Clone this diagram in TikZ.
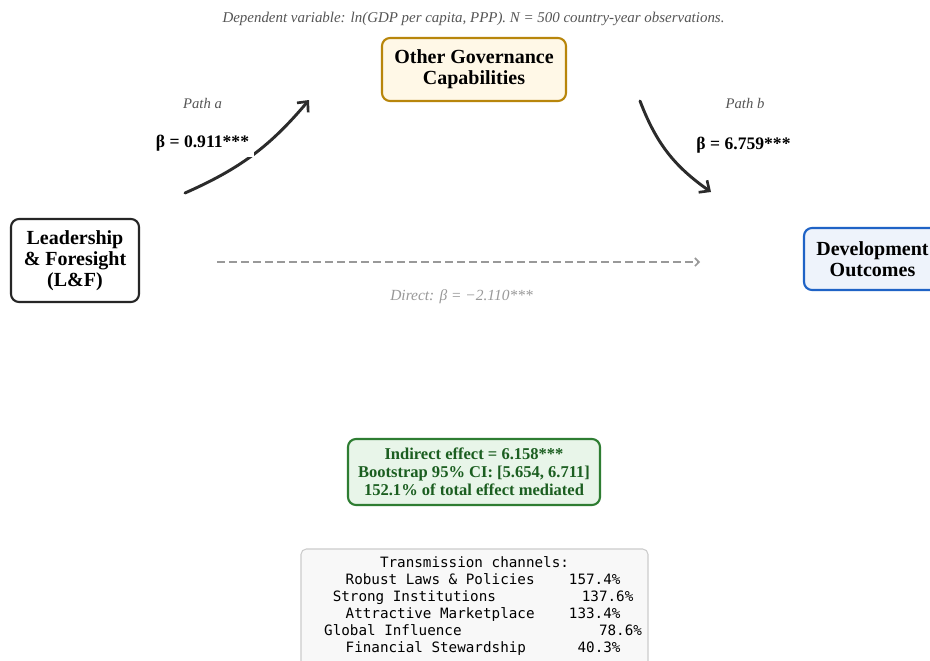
\documentclass[tikz,border=0pt]{standalone}
\usepackage{fontspec}
\setmainfont{Liberation Serif}
\setmonofont{DejaVu Sans Mono}
\usetikzlibrary{arrows.meta}
\definecolor{goldline}{HTML}{B8860B}
\definecolor{goldfill}{HTML}{FFF8E7}
\definecolor{blueline}{HTML}{1F63C6}
\definecolor{bluefill}{HTML}{EEF3FB}
\definecolor{greenline}{HTML}{2E7D32}
\definecolor{greenfill}{HTML}{E8F5E9}
\definecolor{greentext}{HTML}{1B5E20}
\definecolor{darkarrow}{HTML}{2B2B2B}
\definecolor{graytext}{HTML}{555555}
\definecolor{lightgraytext}{HTML}{999999}
\definecolor{tableline}{HTML}{CCCCCC}
\definecolor{tablefill}{HTML}{F8F8F8}
\tikzset{
  box/.style={rounded corners=6pt, line width=1.6pt, align=center, inner sep=0pt,
    font=\fontsize{15}{15.6}\selectfont\bfseries},
  pathlabel/.style={font=\fontsize{11}{13}\selectfont\itshape, text=graytext},
  betalabel/.style={font=\fontsize{13.2}{15}\selectfont\bfseries, text=black},
  patharrow/.style={line width=2.2pt, draw=darkarrow, line cap=round,
    -{Straight Barb[length=6pt,width=11pt,line width=2pt]}},
  directarrow/.style={line width=1.2pt, draw=lightgraytext, dash pattern=on 6pt off 3pt,
    -{Straight Barb[length=3pt,width=6pt]}},
}
\begin{document}
\begin{tikzpicture}[x=0.75pt,y=-0.75pt]
\clip (0,0) rectangle (930,660);
\fill[white] (0,0) rectangle (930,660);

\node[font=\fontsize{11.2}{13}\selectfont\itshape, text=graytext] (title) at (473.5,19)
  {Dependent variable: ln(GDP per capita, PPP). N = 500 country-year observations.};

\node[box, draw=goldline, fill=goldfill, minimum width=138pt, minimum height=47.25pt]
  (med) at (474,69.5) {Other Governance\\Capabilities};
\node[box, draw=black!85, fill=white, minimum width=96pt, minimum height=62.25pt]
  (lf) at (75,260.5) {Leadership\\\& Foresight\\(L\&F)};
\node[box, draw=blueline, fill=bluefill, minimum width=102.75pt, minimum height=46.5pt]
  (dev) at (872.5,259) {Development\\Outcomes};

\coordinate (a1) at (185,193);
\coordinate (a2) at (309,100);
\coordinate (b1) at (640,101);
\coordinate (b2) at (711,192);
\coordinate (c1) at (217,262);
\coordinate (c2) at (700,262);

\draw[patharrow] (a1) to[bend right=13] (a2);
\draw[patharrow] (b1) to[bend right=17] (b2);
\draw[directarrow] (c1) -- (c2);

\node[pathlabel] (pa) at (202.5,103) {Path a};
\node[betalabel, fill=white, inner xsep=3.5pt, inner ysep=4.5pt] (ba) at (202.5,143) {β = 0.911***};
\node[pathlabel] (pb) at (745,103) {Path b};
\node[betalabel] (bb) at (743.5,145) {β = 6.759***};
\node[font=\fontsize{11.6}{14}\selectfont\itshape, text=lightgraytext] (direct) at (461.5,297)
  {Direct: β = −2.110***};

\node[rounded corners=6pt, line width=1.6pt, draw=greenline, fill=greenfill, text=greentext,
  align=center, minimum width=189pt, minimum height=49.5pt, inner sep=0pt,
  font=\fontsize{12.4}{13.5}\selectfont\bfseries] (ind) at (474,472)
  {Indirect effect = 6.158***\\Bootstrap 95\% CI: [5.654, 6.711]\\152.1\% of total effect mediated};

\node[rounded corners=4pt, line width=0.8pt, draw=tableline, fill=tablefill,
  minimum width=260.25pt, minimum height=89.25pt, inner sep=0pt] (tabbox) at (474.5,608.5) {};
\node[align=center, inner sep=0pt, font=\fontsize{10.7}{12.75}\selectfont\ttfamily] (tab) at (474.5,606)
  {Transmission channels:\\
   \hphantom{00}Robust Laws \& Policies\hphantom{0000}157.4\%\\
   \hphantom{00}Strong Institutions\hphantom{0000000000}137.6\%\\
   \hphantom{00}Attractive Marketplace\hphantom{0000}133.4\%\\
   \hphantom{00}Global Influence\hphantom{0000000000000000}78.6\%\\
   \hphantom{00}Financial Stewardship\hphantom{000000}40.3\%};
\end{tikzpicture}
\end{document}
